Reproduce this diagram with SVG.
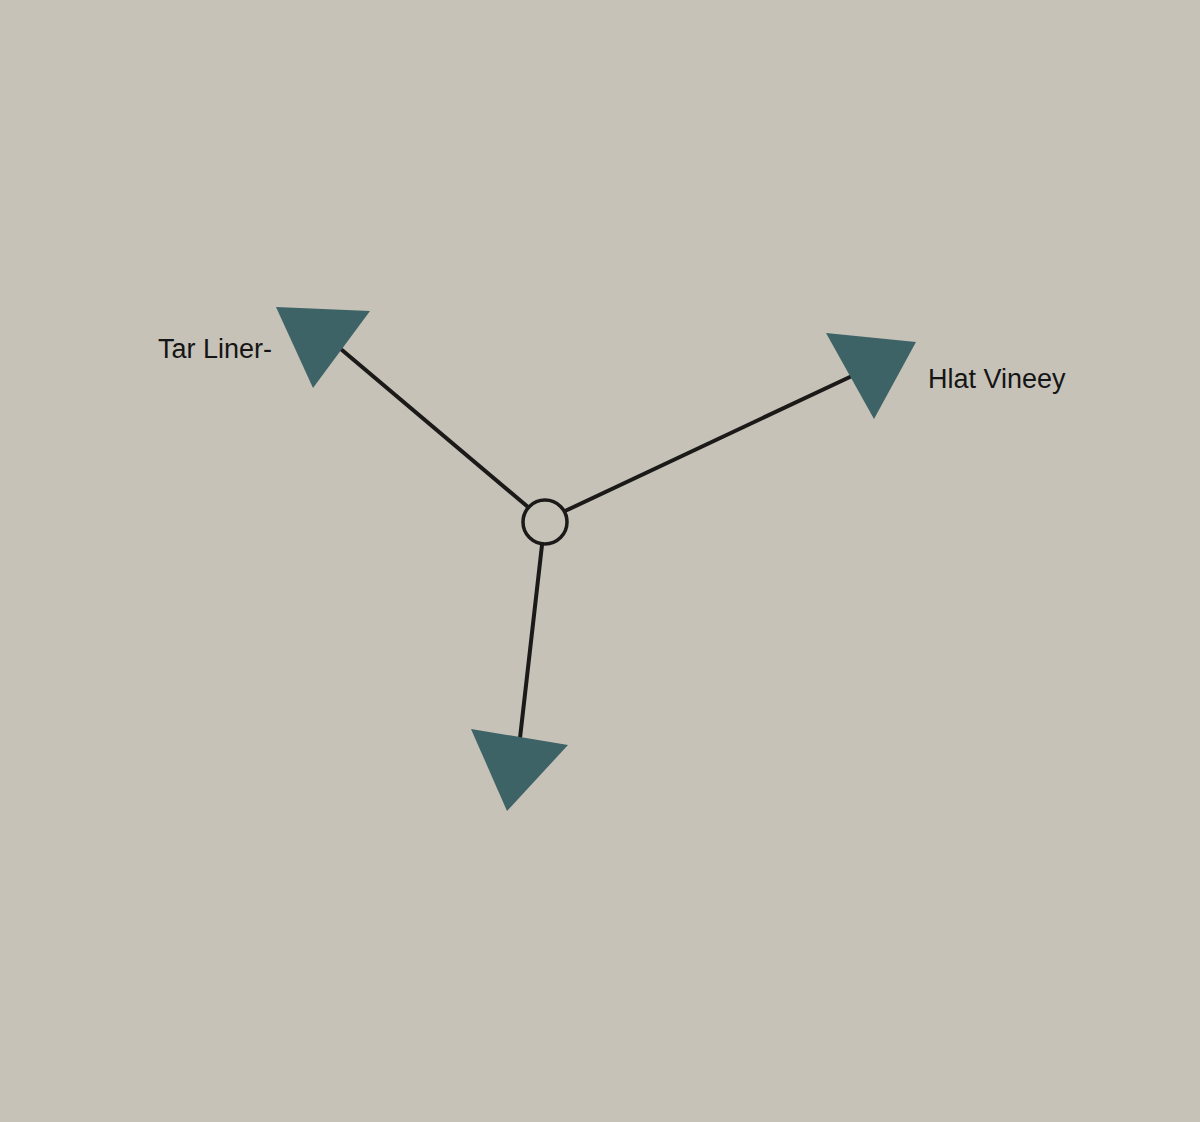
<svg xmlns="http://www.w3.org/2000/svg" width="1200" height="1122" viewBox="0 0 1200 1122">
<style>
.bg{fill:#c6c2b8}
.tri{fill:#3e6367}
.edge{stroke:#1b1a18;stroke-width:4;stroke-linecap:round;fill:none}
.hub{fill:#c6c2b8;stroke:#1b1a18;stroke-width:3.5}
.lbl{font-family:"Liberation Sans",Arial,sans-serif;font-size:27px;fill:#151515}
</style>
<rect class="bg" x="0" y="0" width="1200" height="1122"/>
<g id="connectors">
<line class="edge" x1="528" y1="507" x2="342" y2="350"/>
<line class="edge" x1="565" y1="511" x2="852" y2="376"/>
<line class="edge" x1="542" y1="545" x2="520" y2="738"/>
</g>
<g id="node-hub">
<circle class="hub" cx="545" cy="522" r="22"/>
</g>
<g id="node-tar-liner">
<polygon class="tri" points="276,307 370,311 313,388"/>
<text class="lbl" x="158" y="358">Tar Liner-</text>
</g>
<g id="node-hlat-vineey">
<polygon class="tri" points="826,333 916,342 874,419"/>
<text class="lbl" x="928" y="388">Hlat Vineey</text>
</g>
<g id="node-bottom">
<polygon class="tri" points="471,729 568,745 507,811"/>
</g>
</svg>
